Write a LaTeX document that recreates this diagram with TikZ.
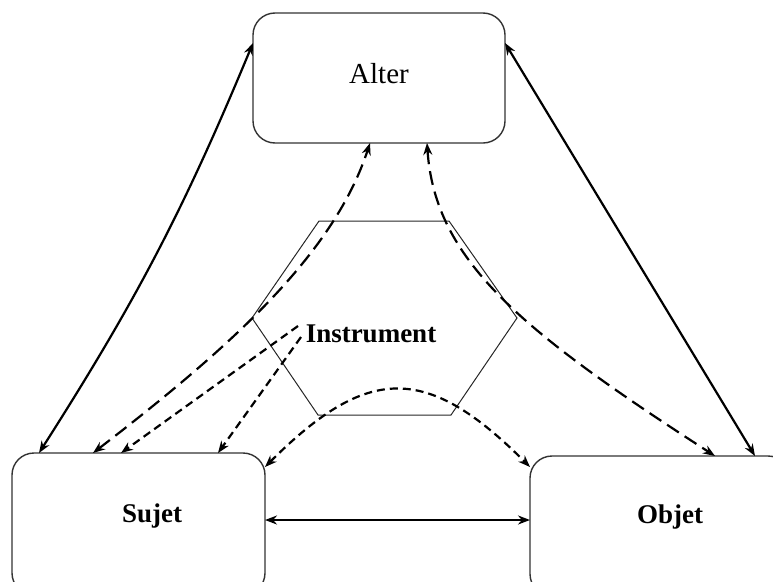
\documentclass[tikz,border=0pt]{standalone}
\usepackage{fontspec}
\setmainfont{Liberation Serif}
\usetikzlibrary{arrows.meta,calc}
\begin{document}
\begin{tikzpicture}[x=1pt,y=-1pt,
  box/.style={draw=black!80, line width=1.4pt, rounded corners=22pt, inner sep=0pt},
  lbl/.style={font=\fontsize{27}{30}\selectfont\bfseries, anchor=base, inner sep=0pt},
  solidarrow/.style={line width=2.2pt, {Stealth[length=12pt,width=9pt]}-{Stealth[length=12pt,width=9pt]}},
  longdash/.style={line width=2.2pt, dash pattern=on 14pt off 7pt},
  shortdash/.style={line width=2.2pt, dash pattern=on 8pt off 5pt},
  hexline/.style={draw=black!85, line width=1pt, line join=miter}
]
\useasboundingbox (0,0) rectangle (773,581);
\clip (0,0) rectangle (773,581);

% boxes
\node[box, minimum width=252pt, minimum height=130pt] (alter) at (379,78) {};
\node[box, minimum width=253pt, minimum height=142pt] (sujet) at (138.5,524) {};
\node[box, minimum width=260pt, minimum height=140pt] (objet) at (660,526) {};

% hexagon
\coordinate (h1) at (252,318);
\coordinate (h2) at (319,221);
\coordinate (h3) at (449,221);
\coordinate (h4) at (517,318);
\coordinate (h5) at (451,415);
\coordinate (h6) at (318,415);
\draw[hexline] (h1) -- (h2) -- (h3) -- (h4) -- (h5) -- (h6) -- cycle;

% labels
\node[lbl, font=\fontsize{29}{30}\selectfont] (altertext) at (379,83) {Alter};
\node[lbl] (sujettext) at (152,522) {Sujet};
\node[lbl] (objettext) at (670,523) {Objet};
\node[lbl] (instrtext) at (371,342) {Instrument};

% connector end points
\coordinate (aL) at (253,43);
\coordinate (aR) at (505,43);
\coordinate (aB1) at (370,143);
\coordinate (aB2) at (427,143);
\coordinate (sT1) at (39,453);
\coordinate (sT2) at (93,453);
\coordinate (sT3) at (121,453);
\coordinate (sT4) at (218,453);
\coordinate (sC) at (265,467);
\coordinate (sR) at (265,520);
\coordinate (oL) at (530,520);
\coordinate (oC) at (530,467);
\coordinate (oT1) at (715,456);
\coordinate (oT2) at (755,456);
\coordinate (i1) at (298,326);
\coordinate (i2) at (301,337);

% solid connectors
\draw[solidarrow] (aL) to[bend left=5] (sT1);
\draw[solidarrow] (aR) -- (oT2);
\draw[solidarrow] (sR) -- (oL);

% long dashed connectors
\draw[longdash, {Stealth[length=12pt,width=9pt]}-{Stealth[length=12pt,width=9pt]}]
  (sT2) .. controls (240,340) and (335,250) .. (aB1);
\draw[longdash, {Stealth[length=12pt,width=9pt]}-{Stealth[length=12pt,width=9pt]}]
  (aB2) .. controls (435,260) and (520,330) .. (oT1);

% short dashed connectors
\draw[shortdash, -{Stealth[length=12pt,width=9pt]}] (i1) -- (sT3);
\draw[shortdash, -{Stealth[length=12pt,width=9pt]}] (i2) -- (sT4);
\draw[shortdash, {Stealth[length=12pt,width=9pt]}-{Stealth[length=12pt,width=9pt]}]
  (sC) .. controls (368,364) and (427,364) .. (oC);
\end{tikzpicture}
\end{document}
